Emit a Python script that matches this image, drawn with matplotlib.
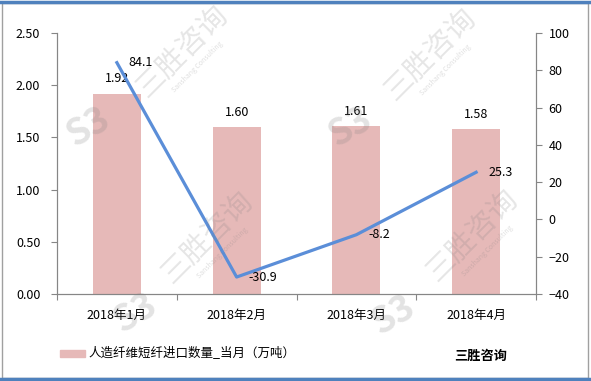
import matplotlib
matplotlib.use("Agg")
from matplotlib import pyplot as plt
from matplotlib.patches import Rectangle
from matplotlib.lines import Line2D

plt.rcParams['font.family'] = ['Noto Sans CJK SC', 'DejaVu Sans']

months = ["2018年1月", "2018年2月", "2018年3月", "2018年4月"]
volume = [1.92, 1.60, 1.61, 1.58]          # 万吨, left axis
growth = [84.1, -30.9, -8.2, 25.3]         # %, right axis
bar_label = "人造纤维短纤进口数量_当月（万吨）"
brand = "三胜咨询"

W, H = 591, 381
fig = plt.figure(figsize=(W / 100, H / 100), dpi=100)
ax = fig.add_axes([57 / W, 1 - 294 / H, (536 - 57) / W, (294 - 33) / H])
ax2 = ax.twinx()

x = range(len(months))
bar_color = "#e6b9b8"
bars = ax.bar(x, volume, width=0.4, color=bar_color, zorder=2)
for xi, v in zip(x, volume):
    ax.text(xi, v + 0.08, f"{v:.2f}", ha="center", va="bottom", fontsize=9)

ax.set_xlim(-0.5, 3.5)
ax.set_ylim(0, 2.5)
ax.set_yticks([0, 0.5, 1.0, 1.5, 2.0, 2.5])
ax.set_yticklabels([f"{v:.2f}" for v in [0, 0.5, 1.0, 1.5, 2.0, 2.5]], fontsize=9)
ax.set_xticks([-0.5, 0.5, 1.5, 2.5, 3.5])
ax.set_xticklabels([])
ax.set_xticks(list(x), minor=True)
ax.set_xticklabels(months, minor=True, fontsize=9)
ax.tick_params(axis="x", which="minor", length=0, pad=11)
ax.tick_params(axis="x", which="major", length=4, color="#868686")
ax.tick_params(axis="y", length=4, color="#868686", pad=8)

line_color = "#5b8ed8"
ax2.plot(list(x), growth, color=line_color, linewidth=2.3, zorder=3)
for xi, v in zip(x, growth):
    ax2.text(xi + 0.1, v, f"{v:.1f}", ha="left", va="center", fontsize=9)
ax2.set_ylim(-40, 100)
ax2.set_yticks(range(-40, 101, 20))
ax2.tick_params(axis="y", length=4, color="#868686", labelsize=9, pad=5)

for a in (ax, ax2):
    a.spines["top"].set_visible(False)
    for s in ("left", "right", "bottom"):
        a.spines[s].set_color("#868686")
ax.patch.set_alpha(0)

# watermarks, semi-transparent overlay like the original
wm_color = "#808080"
for lx, ly, tx, ty in [(88, 127, 182, 52), (350, 127, 430, 55),
                       (135, 313, 207, 238), (393, 315, 472, 236)]:
    fig.text(lx / W, 1 - ly / H, "S3", fontsize=26, fontweight="heavy",
             color=wm_color, alpha=0.22, ha="center", va="center", rotation=30)
    fig.text(tx / W, 1 - ty / H, brand, fontsize=21,
             color=wm_color, alpha=0.2, ha="center", va="center", rotation=45)
    fig.text((tx + 15) / W, 1 - (ty + 15) / H, "Sanshang Consulting", fontsize=5,
             color=wm_color, alpha=0.25, ha="center", va="center", rotation=45)

# legend
fig.patches.append(Rectangle((60 / W, 1 - 357 / H), 25 / W, 7 / H,
                             transform=fig.transFigure, color=bar_color))
fig.text(88 / W, 1 - 353 / H, bar_label, fontsize=9, ha="left", va="center")
fig.text(481 / W, 1 - 356 / H, brand, fontsize=9.5, fontweight="bold",
         ha="center", va="center")

# outer frame
fig.patches.append(Rectangle((2 / W, 3 / H), (W - 5) / W, (H - 6) / H,
                             transform=fig.transFigure, fill=False,
                             edgecolor="#a0a0a0", linewidth=1))
fig.lines.append(Line2D([0, 1], [1 - 2 / H, 1 - 2 / H], transform=fig.transFigure,
                        color="#4f81bd", linewidth=2.5))
fig.lines.append(Line2D([0, 1], [2 / H, 2 / H], transform=fig.transFigure,
                        color="#4f81bd", linewidth=2.5))

fig.savefig("out.png", dpi=100)
